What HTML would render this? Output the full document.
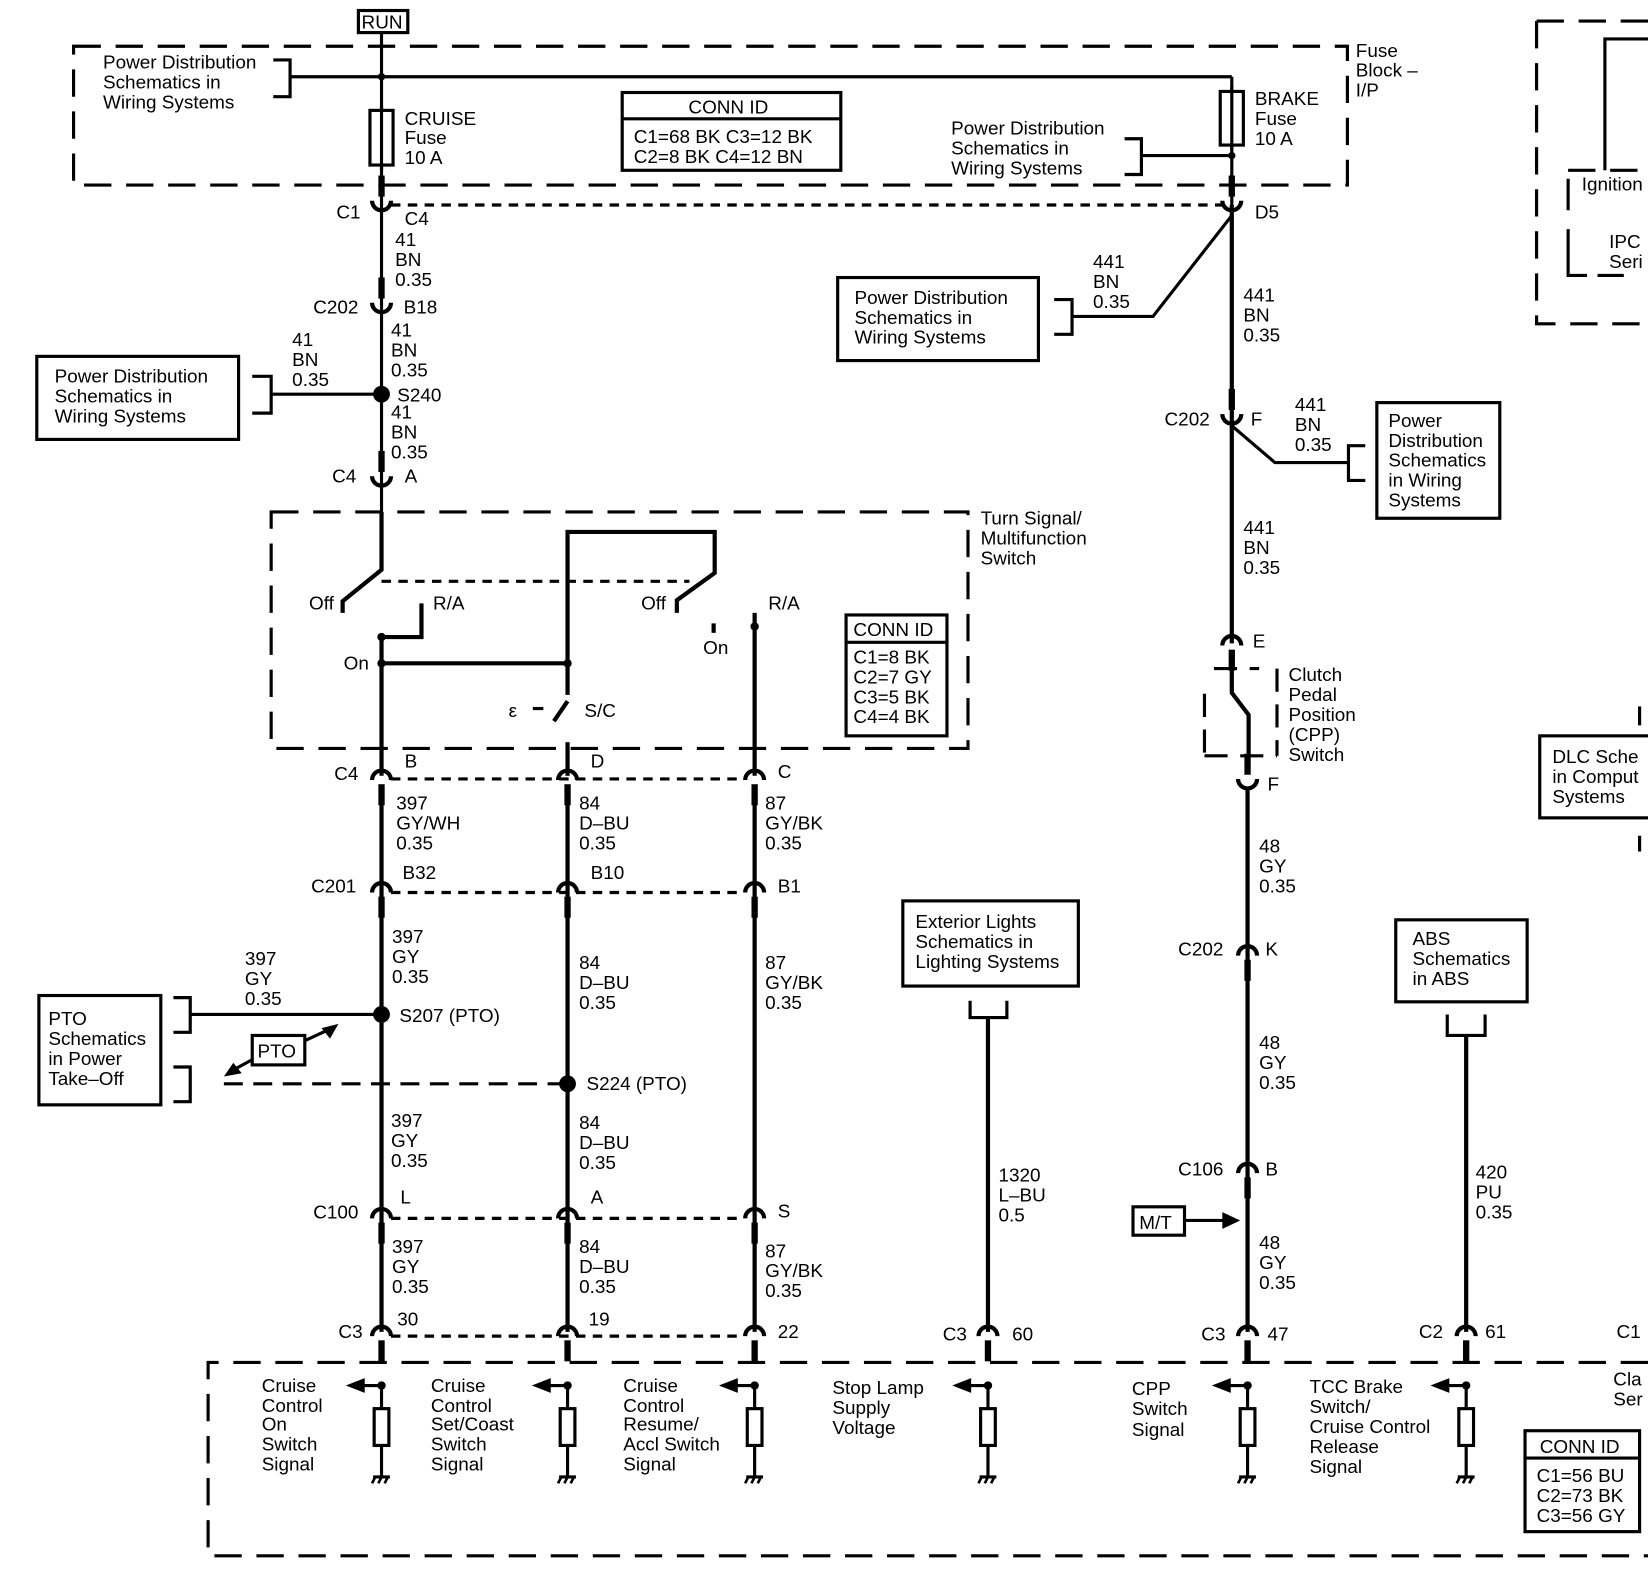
<!DOCTYPE html>
<html><head><meta charset="utf-8"><style>
html,body{margin:0;padding:0;background:#fff;}
svg{display:block;}
text{font-family:"Liberation Sans",Arial,sans-serif;font-size:18px;fill:#000;}
</style></head><body>
<svg width="1648" height="1580" viewBox="0 0 1568 1503" preserveAspectRatio="none" xmlns="http://www.w3.org/2000/svg">
<defs>
<g id="cd"><path d="M-9,4 A9,9 0 0 1 9,4" fill="none" stroke="#000" stroke-width="4"/><rect x="-3" y="8" width="6" height="20" fill="#000"/></g>
<g id="cu"><path d="M-9,-4 A9,9 0 0 0 9,-4" fill="none" stroke="#000" stroke-width="4"/><rect x="-3" y="-28" width="6" height="20" fill="#000"/></g>
<g id="gnd"><line x1="-8" y1="0" x2="8" y2="0" stroke="#000" stroke-width="3"/><line x1="-6" y1="0" x2="-9" y2="6" stroke="#000" stroke-width="2.5"/><line x1="0" y1="0" x2="-3" y2="6" stroke="#000" stroke-width="2.5"/><line x1="6" y1="0" x2="3" y2="6" stroke="#000" stroke-width="2.5"/></g>
<g id="load"><circle cx="0" cy="0" r="4" fill="#000"/><rect x="-7" y="22" width="14" height="35" fill="#fff" stroke="#000" stroke-width="3"/><line x1="0" y1="0" x2="0" y2="22" stroke="#000" stroke-width="3"/><line x1="0" y1="57" x2="0" y2="87" stroke="#000" stroke-width="3"/><use href="#gnd" x="0" y="87"/><line x1="0" y1="0" x2="-18" y2="0" stroke="#000" stroke-width="3"/><polygon points="-16,-7 -34,0 -16,7" fill="#000"/></g>
</defs>
<g stroke="#000" fill="none" stroke-width="3">
<!-- RUN -->
<rect x="341" y="10" width="47" height="21"/>
<!-- fuse block dashed -->
<rect x="70" y="44" width="1212" height="132" stroke-dasharray="26,14"/>
<polyline points="260,57 276,57 276,92 260,92"/>
<line x1="276" y1="73" x2="1172" y2="73"/>
<line x1="363" y1="31" x2="363" y2="195"/>
<line x1="1172" y1="73" x2="1172" y2="195"/>
<rect x="352" y="105" width="22" height="52" fill="#fff"/>
<rect x="1161" y="87" width="22" height="51" fill="#fff"/>
<line x1="363" y1="100" x2="363" y2="162"/>
<line x1="1172" y1="82" x2="1172" y2="143"/>
<rect x="592" y="88" width="208" height="74"/>
<line x1="592" y1="113" x2="800" y2="113"/>
<polyline points="1070,132 1086,132 1086,166 1070,166"/>
<line x1="1086" y1="148" x2="1172" y2="148"/>
<line x1="372" y1="195" x2="1163" y2="195" stroke-dasharray="9,7"/>
<!-- left column upper -->
<line x1="363" y1="195" x2="363" y2="490"/>
<polyline points="240,358 258,358 258,393 240,393"/>
<line x1="258" y1="375" x2="363" y2="375"/>
<rect x="35" y="339" width="192" height="79"/>
<!-- switch box -->
<rect x="258" y="487" width="663" height="225" stroke-dasharray="26,14"/>
<polyline points="363,487 363,542 326,572 326,583" stroke-width="4"/>
<line x1="363" y1="553" x2="656" y2="553" stroke-dasharray="9,7"/>
<polyline points="401,574 401,606 363,606" stroke-width="4"/>
<line x1="363" y1="606" x2="363" y2="738" stroke-width="4"/>
<line x1="363" y1="631" x2="540" y2="631" stroke-width="4"/>
<polyline points="540,661 540,506 680,506 680,545 644,571 644,583" stroke-width="4"/>
<line x1="540" y1="667" x2="527" y2="686" stroke-width="4"/>
<line x1="507" y1="674" x2="517" y2="674" stroke-width="3"/>
<line x1="540" y1="706" x2="540" y2="738" stroke-width="4"/>
<line x1="679" y1="593" x2="679" y2="602" stroke-width="4"/>
<line x1="718" y1="583" x2="718" y2="738" stroke-width="4"/>
<rect x="805" y="585" width="96" height="115"/>
<line x1="805" y1="611" x2="901" y2="611"/>
<!-- dotted rows -->
<line x1="372" y1="741" x2="708" y2="741" stroke-dasharray="9,7"/>
<line x1="372" y1="849" x2="708" y2="849" stroke-dasharray="9,7"/>
<line x1="372" y1="1159" x2="708" y2="1159" stroke-dasharray="9,7"/>
<line x1="372" y1="1271" x2="708" y2="1271" stroke-dasharray="9,7"/>
<!-- column wires -->
<line x1="363" y1="760" x2="363" y2="1267" stroke-width="4"/>
<line x1="540" y1="760" x2="540" y2="1267" stroke-width="4"/>
<line x1="718" y1="760" x2="718" y2="1267" stroke-width="4"/>
<!-- PTO -->
<rect x="37" y="947" width="116" height="104"/>
<polyline points="165,949 181,949 181,982 165,982"/>
<polyline points="165,1015 181,1015 181,1048 165,1048"/>
<line x1="181" y1="965" x2="363" y2="965"/>
<line x1="213" y1="1031" x2="540" y2="1031" stroke-dasharray="18,10"/>
<rect x="240" y="985" width="50" height="28"/>
<line x1="290" y1="990" x2="318" y2="977"/>
<line x1="240" y1="1008" x2="218" y2="1020"/>
<!-- bottom dashed box -->
<path d="M1568,1296 L198,1296 L198,1480 L1568,1480" stroke-dasharray="26,14"/>
<!-- exterior lights -->
<rect x="859" y="857" width="167" height="81"/>
<polyline points="923,952 923,968 958,968 958,952"/>
<line x1="940" y1="968" x2="940" y2="1267" stroke-width="4"/>
<!-- right column -->
<line x1="1172" y1="195" x2="1172" y2="612" stroke-width="4"/>
<polyline points="1172,205 1097,301 1020,301"/>
<polyline points="1003,285 1020,285 1020,318 1003,318"/>
<rect x="797" y="264" width="191" height="79"/>
<polyline points="1172,405 1213,440 1283,440"/>
<polyline points="1299,424 1283,424 1283,457 1299,457"/>
<rect x="1310" y="383" width="117" height="110"/>
<path d="M1146,660 L1146,719 M1155,636 L1198,636 M1215,636 L1215,719 M1146,719 L1215,719" stroke-dasharray="22,12"/>
<polyline points="1172,620 1172,659 1188,680 1188,720" stroke-width="4"/>
<line x1="1187" y1="750" x2="1187" y2="1267" stroke-width="4"/>
<rect x="1078" y="1148" width="49" height="27"/>
<line x1="1127" y1="1161" x2="1165" y2="1161"/>
<!-- ABS -->
<rect x="1328" y="875" width="125" height="78"/>
<polyline points="1377,965 1377,985 1413,985 1413,965"/>
<line x1="1395" y1="985" x2="1395" y2="1267" stroke-width="4"/>
<!-- bottom conn id -->
<rect x="1451" y="1361" width="109" height="96"/>
<line x1="1451" y1="1387" x2="1560" y2="1387"/>
<!-- DLC -->
<rect x="1465" y="700" width="110" height="78"/>
<line x1="1560" y1="672" x2="1560" y2="690"/>
<line x1="1560" y1="795" x2="1560" y2="810"/>
<!-- top right -->
<path d="M1462,20 L1462,308 L1568,308 M1462,20 L1568,20" stroke-dasharray="26,14"/>
<polyline points="1527,162 1527,37 1568,37"/>
<line x1="1492" y1="162" x2="1568" y2="162" stroke-dasharray="26,14"/>
<path d="M1492,170 L1492,200 M1492,218 L1492,262 L1510,262 M1520,262 L1545,262"/>
</g>
<!-- arrows & dots -->
<polygon points="322,974 306,978 314,988" fill="#000"/>
<polygon points="213,1024 230,1021 222,1011" fill="#000"/>
<polygon points="1163,1153 1180,1161 1163,1169" fill="#000"/>
<circle cx="363" cy="73" r="3.5"/><circle cx="1172" cy="148" r="3.5"/>
<circle cx="363" cy="375" r="8"/><circle cx="363" cy="965" r="8"/><circle cx="540" cy="1031" r="8"/>
<circle cx="363" cy="606" r="4"/><circle cx="363" cy="631" r="4"/><circle cx="540" cy="631" r="4"/><circle cx="718" cy="596" r="4"/>
<!-- connectors -->
<use href="#cu" x="363" y="195"/><use href="#cu" x="1172" y="195"/>
<use href="#cu" x="363" y="292"/><use href="#cu" x="363" y="457"/><use href="#cu" x="1172" y="398"/>
<use href="#cd" x="1172" y="610"/><use href="#cu" x="1187" y="745"/>
<use href="#cd" x="363" y="738"/><use href="#cd" x="540" y="738"/><use href="#cd" x="718" y="738"/>
<use href="#cd" x="363" y="845"/><use href="#cd" x="540" y="845"/><use href="#cd" x="718" y="845"/>
<use href="#cd" x="363" y="1155"/><use href="#cd" x="540" y="1155"/><use href="#cd" x="718" y="1155"/>
<use href="#cd" x="1187" y="905"/><use href="#cd" x="1187" y="1112"/>
<use href="#cd" x="363" y="1267"/><use href="#cd" x="540" y="1267"/><use href="#cd" x="718" y="1267"/>
<use href="#cd" x="940" y="1267"/><use href="#cd" x="1187" y="1267"/><use href="#cd" x="1395" y="1267"/>
<!-- loads -->
<use href="#load" x="363" y="1318"/><use href="#load" x="540" y="1318"/><use href="#load" x="718" y="1318"/>
<use href="#load" x="940" y="1318"/><use href="#load" x="1187" y="1318"/><use href="#load" x="1395" y="1318"/>
<g>
<text x="344" y="27">RUN</text>
<text x="98" y="65">Power Distribution</text><text x="98" y="84">Schematics in</text><text x="98" y="103">Wiring  Systems</text>
<text x="385" y="119">CRUISE</text><text x="385" y="137">Fuse</text><text x="385" y="156">10 A</text>
<text x="655" y="108">CONN ID</text>
<text x="603" y="136">C1=68 BK  C3=12 BK</text><text x="603" y="155">C2=8 BK    C4=12 BN</text>
<text x="1194" y="100">BRAKE</text><text x="1194" y="119">Fuse</text><text x="1194" y="138">10 A</text>
<text x="905" y="128">Power Distribution</text><text x="905" y="147">Schematics in</text><text x="905" y="166">Wiring  Systems</text>
<text x="1290" y="54">Fuse</text><text x="1290" y="73">Block –</text><text x="1290" y="92">I/P</text>
<text x="320" y="208">C1</text><text x="385" y="214">C4</text>
<text x="376" y="234">41</text><text x="376" y="253">BN</text><text x="376" y="272">0.35</text>
<text x="298" y="298">C202</text><text x="384" y="298">B18</text>
<text x="372" y="320">41</text><text x="372" y="339">BN</text><text x="372" y="358">0.35</text>
<text x="378" y="382">S240</text>
<text x="372" y="398">41</text><text x="372" y="417">BN</text><text x="372" y="436">0.35</text>
<text x="278" y="329">41</text><text x="278" y="348">BN</text><text x="278" y="367">0.35</text>
<text x="52" y="364">Power Distribution</text><text x="52" y="383">Schematics in</text><text x="52" y="402">Wiring Systems</text>
<text x="316" y="459">C4</text><text x="385" y="459">A</text>
<text x="933" y="499">Turn Signal/</text><text x="933" y="518">Multifunction</text><text x="933" y="537">Switch</text>
<text x="294" y="580">Off</text><text x="412" y="580">R/A</text><text x="610" y="580">Off</text><text x="731" y="580">R/A</text>
<text x="327" y="637">On</text><text x="669" y="622">On</text>
<text x="484" y="682">ε</text><text x="556" y="682">S/C</text>
<text x="812" y="605">CONN ID</text><text x="812" y="631">C1=8 BK</text><text x="812" y="650">C2=7 GY</text><text x="812" y="669">C3=5 BK</text><text x="812" y="688">C4=4 BK</text>
<text x="318" y="742">C4</text><text x="385" y="730">B</text><text x="562" y="730">D</text><text x="740" y="740">C</text>
<text x="377" y="770">397</text><text x="377" y="789">GY/WH</text><text x="377" y="808">0.35</text>
<text x="551" y="770">84</text><text x="551" y="789">D–BU</text><text x="551" y="808">0.35</text>
<text x="728" y="770">87</text><text x="728" y="789">GY/BK</text><text x="728" y="808">0.35</text>
<text x="296" y="849">C201</text><text x="383" y="836">B32</text><text x="562" y="836">B10</text><text x="740" y="849">B1</text>
<text x="373" y="897">397</text><text x="373" y="916">GY</text><text x="373" y="935">0.35</text>
<text x="551" y="922">84</text><text x="551" y="941">D–BU</text><text x="551" y="960">0.35</text>
<text x="728" y="922">87</text><text x="728" y="941">GY/BK</text><text x="728" y="960">0.35</text>
<text x="380" y="972">S207 (PTO)</text><text x="558" y="1037">S224 (PTO)</text>
<text x="233" y="918">397</text><text x="233" y="937">GY</text><text x="233" y="956">0.35</text>
<text x="46" y="975">PTO</text><text x="46" y="994">Schematics</text><text x="46" y="1013">in Power</text><text x="46" y="1032">Take–Off</text>
<text x="245" y="1006">PTO</text>
<text x="372" y="1072">397</text><text x="372" y="1091">GY</text><text x="372" y="1110">0.35</text>
<text x="551" y="1074">84</text><text x="551" y="1093">D–BU</text><text x="551" y="1112">0.35</text>
<text x="298" y="1159">C100</text><text x="381" y="1145">L</text><text x="562" y="1145">A</text><text x="740" y="1158">S</text>
<text x="373" y="1192">397</text><text x="373" y="1211">GY</text><text x="373" y="1230">0.35</text>
<text x="551" y="1192">84</text><text x="551" y="1211">D–BU</text><text x="551" y="1230">0.35</text>
<text x="728" y="1196">87</text><text x="728" y="1215">GY/BK</text><text x="728" y="1234">0.35</text>
<text x="322" y="1273">C3</text><text x="378" y="1261">30</text><text x="560" y="1261">19</text><text x="740" y="1273">22</text>
<text x="249" y="1324">Cruise</text><text x="249" y="1343">Control</text><text x="249" y="1361">On</text><text x="249" y="1380">Switch</text><text x="249" y="1399">Signal</text>
<text x="410" y="1324">Cruise</text><text x="410" y="1343">Control</text><text x="410" y="1361">Set/Coast</text><text x="410" y="1380">Switch</text><text x="410" y="1399">Signal</text>
<text x="593" y="1324">Cruise</text><text x="593" y="1343">Control</text><text x="593" y="1361">Resume/</text><text x="593" y="1380">Accl Switch</text><text x="593" y="1399">Signal</text>
<text x="871" y="883">Exterior Lights</text><text x="871" y="902">Schematics in</text><text x="871" y="921">Lighting Systems</text>
<text x="950" y="1124">1320</text><text x="950" y="1143">L–BU</text><text x="950" y="1162">0.5</text>
<text x="897" y="1275">C3</text><text x="963" y="1275">60</text>
<text x="792" y="1326">Stop Lamp</text><text x="792" y="1345">Supply</text><text x="792" y="1364">Voltage</text>
<text x="1194" y="208">D5</text>
<text x="1040" y="255">441</text><text x="1040" y="274">BN</text><text x="1040" y="293">0.35</text>
<text x="1183" y="287">441</text><text x="1183" y="306">BN</text><text x="1183" y="325">0.35</text>
<text x="813" y="289">Power Distribution</text><text x="813" y="308">Schematics in</text><text x="813" y="327">Wiring Systems</text>
<text x="1108" y="405">C202</text><text x="1190" y="405">F</text>
<text x="1232" y="391">441</text><text x="1232" y="410">BN</text><text x="1232" y="429">0.35</text>
<text x="1321" y="406">Power</text><text x="1321" y="425">Distribution</text><text x="1321" y="444">Schematics</text><text x="1321" y="463">in Wiring</text><text x="1321" y="482">Systems</text>
<text x="1183" y="508">441</text><text x="1183" y="527">BN</text><text x="1183" y="546">0.35</text>
<text x="1192" y="616">E</text><text x="1206" y="752">F</text>
<text x="1226" y="648">Clutch</text><text x="1226" y="667">Pedal</text><text x="1226" y="686">Position</text><text x="1226" y="705">(CPP)</text><text x="1226" y="724">Switch</text>
<text x="1198" y="811">48</text><text x="1198" y="830">GY</text><text x="1198" y="849">0.35</text>
<text x="1121" y="909">C202</text><text x="1204" y="909">K</text>
<text x="1198" y="998">48</text><text x="1198" y="1017">GY</text><text x="1198" y="1036">0.35</text>
<text x="1121" y="1118">C106</text><text x="1204" y="1118">B</text>
<text x="1084" y="1169">M/T</text>
<text x="1198" y="1188">48</text><text x="1198" y="1207">GY</text><text x="1198" y="1226">0.35</text>
<text x="1143" y="1275">C3</text><text x="1206" y="1275">47</text>
<text x="1077" y="1327">CPP</text><text x="1077" y="1346">Switch</text><text x="1077" y="1366">Signal</text>
<text x="1344" y="899">ABS</text><text x="1344" y="918">Schematics</text><text x="1344" y="937">in ABS</text>
<text x="1404" y="1121">420</text><text x="1404" y="1140">PU</text><text x="1404" y="1159">0.35</text>
<text x="1350" y="1273">C2</text><text x="1413" y="1273">61</text>
<text x="1246" y="1325">TCC Brake</text><text x="1246" y="1344">Switch/</text><text x="1246" y="1363">Cruise Control</text><text x="1246" y="1382">Release</text><text x="1246" y="1401">Signal</text>
<text x="1538" y="1273">C1</text><text x="1535" y="1318">Cla</text><text x="1535" y="1337">Ser</text>
<text x="1465" y="1382">CONN ID</text><text x="1462" y="1410">C1=56 BU</text><text x="1462" y="1429">C2=73 BK</text><text x="1462" y="1448">C3=56 GY</text>
<text x="1477" y="726">DLC Sche</text><text x="1477" y="745">in Comput</text><text x="1477" y="764">Systems</text>
<text x="1505" y="181">Ignition</text><text x="1531" y="236">IPC</text><text x="1531" y="255">Seri</text>
</g>
</svg>
</body></html>
